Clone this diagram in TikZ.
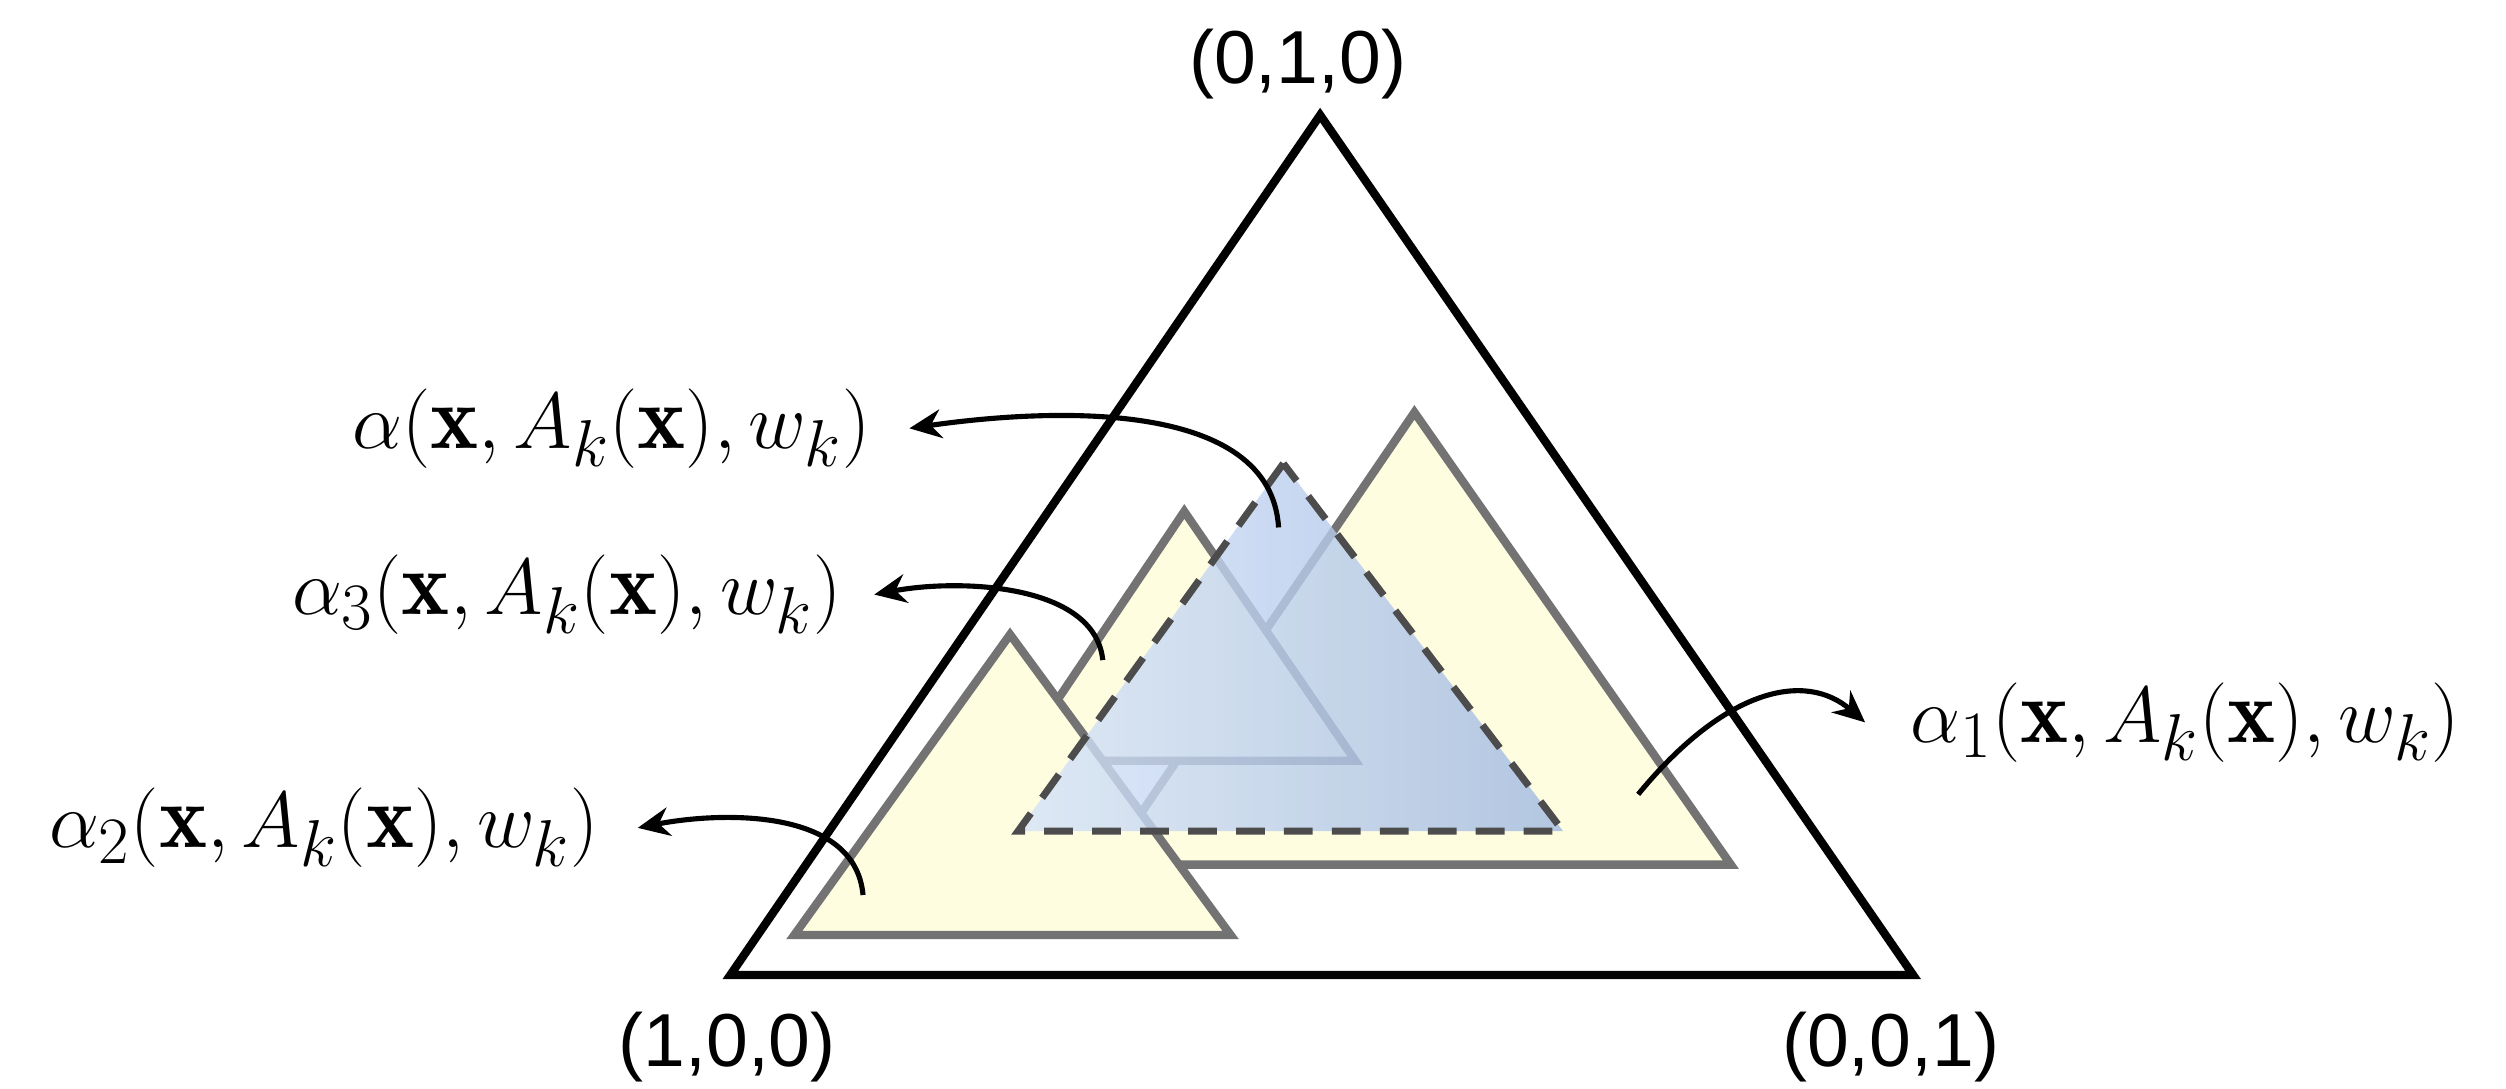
\documentclass[tikz,border=0pt]{standalone}
\usepackage{fontspec}
\setsansfont{Liberation Sans}
\usepackage{amsmath}
\usetikzlibrary{arrows.meta}
\definecolor{bl}{RGB}{214,228,250}
\definecolor{br}{RGB}{160,185,225}
\begin{document}
\begin{tikzpicture}[x=0.5pt,y=-0.5pt,
  tri/.style={draw=black!55,line width=2.6pt,fill=yellow!12,line join=miter},
  lab/.style={font=\fontsize{28.5}{33}\selectfont,inner sep=0pt},
  cor/.style={font=\sffamily\fontsize{23.5}{27}\selectfont,inner sep=0pt},
  arr/.style={-{Stealth[length=10pt,width=9pt]},line width=1.6pt}]
\useasboundingbox (0,0) rectangle (1568,681);
\draw[line width=2.6pt,line join=miter] (826,72) -- (457,610) -- (1197,610) -- cycle;
\draw[tri] (885,258) -- (692,541) -- (1083,541) -- cycle;
\draw[tri] (741,320) -- (636,476) -- (848,476) -- cycle;
\draw[tri] (632,397) -- (497,585) -- (770,585) -- cycle;
\shade[left color=bl,right color=br,opacity=0.8] (803,290) -- (637,520) -- (978,520) -- cycle;
\draw[black!70,line width=2.2pt,dash pattern=on 9pt off 6pt] (803,290) -- (637,520) -- (978,520) -- cycle;
\node[cor] (c010) at (812,40) {(0,1,0)};
\node[cor] (c100) at (455,655) {(1,0,0)};
\node[cor] (c001) at (1183,655) {(0,0,1)};
\node[lab,anchor=east] (la) at (545,268) {$\alpha(\mathbf{x},A_k(\mathbf{x}),w_k)$};
\node[lab,anchor=east] (l3) at (527,372) {$\alpha_3(\mathbf{x},A_k(\mathbf{x}),w_k)$};
\node[lab,anchor=west] (l1) at (1195,452) {$\alpha_1(\mathbf{x},A_k(\mathbf{x}),w_k)$};
\node[lab,anchor=east] (l2) at (375,518) {$\alpha_2(\mathbf{x},A_k(\mathbf{x}),w_k)$};
\coordinate (sa) at (800,330);
\coordinate (s3) at (690,413);
\coordinate (s1) at (1025,497);
\coordinate (s2) at (540,560);
\draw[arr] (sa) .. controls (795,250) and (660,255) .. ([xshift=12]la.east);
\draw[arr] (s3) .. controls (685,365) and (600,362) .. ([xshift=10]l3.east);
\draw[arr] (s1) .. controls (1080,430) and (1130,420) .. ([xshift=-14]l1.west);
\draw[arr] (s2) .. controls (535,505) and (450,508) .. ([xshift=12]l2.east);
\end{tikzpicture}
\end{document}
